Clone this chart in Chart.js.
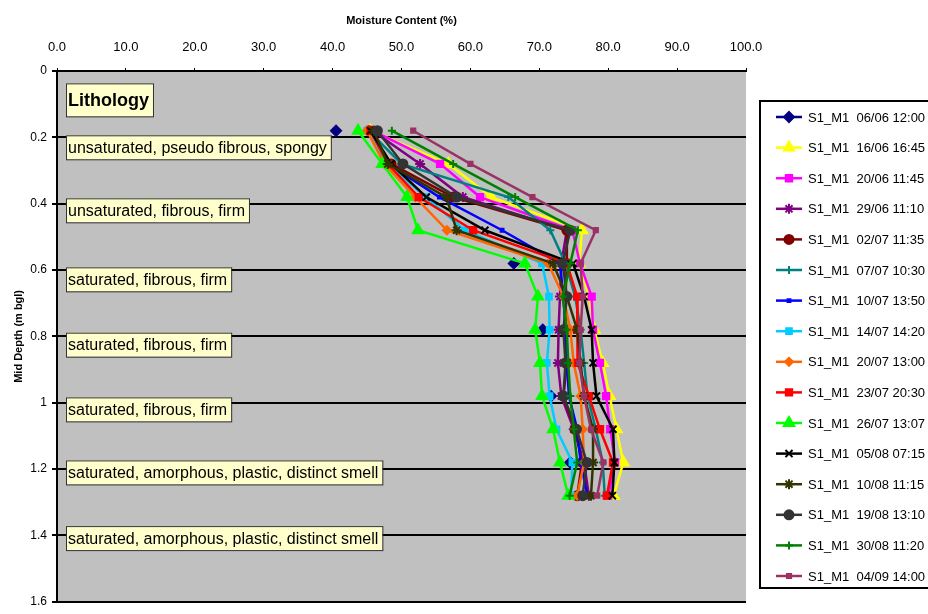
<!DOCTYPE html>
<html>
<head>
<meta charset="utf-8">
<script src="https://cdn.jsdelivr.net/npm/chart.js@4.4.0/dist/chart.umd.min.js"></script>
<style>
  html, body { margin: 0; padding: 0; background: #fff; }
  #wrap { width: 928px; height: 614px; }
</style>
</head>
<body>
<div id="wrap"><canvas id="chart" width="928" height="614"></canvas></div>
<script>
// mid depths (m bgl)
const depths = [0.18, 0.28, 0.38, 0.48, 0.58, 0.68, 0.78, 0.88, 0.98, 1.08, 1.18, 1.28];

// moisture content (%) per survey
const mc_0606 = [40.5, null, null, null, 66.3, null, 70.5, null, 71.7, null, 74.5, null];
const mc_1606 = [45.5, 56.8, 63.0, 76.2, 75.8, 77.2, 78.0, 79.2, 80.2, 81.2, 82.2, 80.8];
const mc_2006 = [45.8, 55.6, 61.4, 74.8, 75.9, 77.6, 77.8, 78.8, 79.7, 80.3, 81.0, 80.0];
const mc_2906 = [45.8, 52.7, 58.9, 74.0, 73.2, 73.0, 72.8, 72.7, 73.2, 75.0, 76.5, 77.2];
const mc_0207 = [45.3, 48.5, 57.5, 74.0, 74.0, 73.8, 73.8, 74.0, 73.5, 75.2, 76.2, 75.5];
const mc_0707 = [45.2, 50.0, 65.5, 71.6, 73.8, 75.2, 76.0, 76.5, 77.0, 78.2, 79.2, 79.5];
const mc_1007 = [45.0, 48.0, 55.5, 64.6, 73.0, 73.5, 73.8, 74.0, 74.3, 75.5, 76.0, 77.0];
const mc_1407 = [45.0, 48.0, 53.5, 59.2, 70.4, 71.4, 71.5, 71.1, 71.5, 72.5, 74.8, 74.6];
const mc_2007 = [45.0, 47.5, 52.0, 56.6, 71.3, 73.5, 74.5, 75.0, 76.0, 76.3, 76.5, 75.5];
const mc_2307 = [45.5, 48.0, 52.5, 60.4, 74.0, 75.5, 75.5, 75.6, 77.2, 78.8, 80.7, 79.8];
const mc_2607 = [43.7, 47.2, 50.8, 52.4, 67.9, 69.8, 69.4, 70.1, 70.4, 72.0, 73.0, 74.2];
const mc_0508 = [45.5, 48.5, 53.6, 62.1, 74.9, 76.5, 77.6, 77.8, 78.3, 80.7, 80.9, 80.6];
const mc_1008 = [46.0, 48.0, 56.5, 58.0, 72.0, 74.0, 75.5, 76.0, 76.5, 77.8, 77.8, 77.5];
const mc_1908 = [46.5, 50.2, 58.0, 74.5, 73.4, 74.0, 73.5, 73.8, 73.5, 75.4, 76.9, 76.3];
const mc_3008 = [48.6, 57.5, 66.5, 75.6, 74.5, 73.4, 74.0, 74.2, 74.5, 75.0, 75.5, 74.4];
const mc_0409 = [51.7, 60.0, 69.0, 78.2, 76.0, 76.3, 76.0, 75.8, 76.5, 77.5, 79.3, 78.4];

const seriesNames = [
  'S1_M1  06/06 12:00', 'S1_M1  16/06 16:45', 'S1_M1  20/06 11:45', 'S1_M1  29/06 11:10',
  'S1_M1  02/07 11:35', 'S1_M1  07/07 10:30', 'S1_M1  10/07 13:50', 'S1_M1  14/07 14:20',
  'S1_M1  20/07 13:00', 'S1_M1  23/07 20:30', 'S1_M1  26/07 13:07', 'S1_M1  05/08 07:15',
  'S1_M1  10/08 11:15', 'S1_M1  19/08 13:10', 'S1_M1  30/08 11:20', 'S1_M1  04/09 14:00'
];
const seriesValues = [mc_0606, mc_1606, mc_2006, mc_2906, mc_0207, mc_0707, mc_1007, mc_1407,
  mc_2007, mc_2307, mc_2607, mc_0508, mc_1008, mc_1908, mc_3008, mc_0409];

// lithology notes
const lithoText = ['Lithology', 'unsaturated, pseudo fibrous, spongy', 'unsaturated, fibrous, firm',
  'saturated, fibrous, firm', 'saturated, fibrous, firm', 'saturated, fibrous, firm',
  'saturated, amorphous, plastic, distinct smell', 'saturated, amorphous, plastic, distinct smell'];
const lithoDepth = [0.087, 0.23, 0.42, 0.628, 0.825, 1.02, 1.21, 1.408];

// styles
const colors = ['#000080', '#FFFF00', '#FF00FF', '#800080', '#800000', '#008080', '#0000FF', '#00CCFF',
  '#FF6600', '#FF0000', '#00FF00', '#000000', '#333300', '#333333', '#008000', '#993366'];
const markers = ['rectRot', 'triangle', 'rect', 'star', 'circle', 'cross', 'rect', 'rect',
  'rectRot', 'rect', 'triangle', 'crossRot', 'star', 'circle', 'cross', 'rect'];
const markerSize = [5, 6, 4.5, 5, 4.5, 4, 2, 4, 4, 4.5, 6, 5, 5, 4.5, 4, 3];

const FONT = '"Liberation Sans", Arial, sans-serif';

const datasets = seriesValues.map((vals, i) => ({
  label: seriesNames[i],
  data: depths.map((d, j) => ({ x: vals[j], y: d })),
  borderColor: colors[i],
  backgroundColor: colors[i],
  pointBackgroundColor: colors[i],
  pointBorderColor: colors[i],
  pointStyle: markers[i],
  pointRadius: markerSize[i],
  pointBorderWidth: 2,
  borderWidth: 2.5,
  order: seriesValues.length - i,
  spanGaps: false,
  tension: 0
}));

// grey plot area
const plotBg = {
  id: 'plotBg',
  beforeDraw(chart) {
    const { ctx, chartArea: a } = chart;
    ctx.save();
    ctx.fillStyle = '#C0C0C0';
    ctx.fillRect(a.left, a.top, a.right - a.left, a.bottom - a.top);
    ctx.restore();
  }
};

// lithology boxes
const lithoBoxes = {
  id: 'lithoBoxes',
  afterDatasetsDraw(chart) {
    const { ctx } = chart;
    const ys = chart.scales.y;
    ctx.save();
    lithoText.forEach((t, i) => {
      const cy = ys.getPixelForValue(lithoDepth[i]);
      const bold = i === 0;
      ctx.font = (bold ? 'bold 18px ' : '16px ') + FONT;
      const w = ctx.measureText(t).width;
      const h = bold ? 33 : 24;
      const x = 66;
      ctx.fillStyle = '#FFFFCC';
      ctx.fillRect(x, cy - h / 2, w + 6, h);
      ctx.strokeStyle = '#333';
      ctx.lineWidth = 1;
      ctx.strokeRect(x + 0.5, cy - h / 2 + 0.5, w + 6, h);
      ctx.fillStyle = '#000';
      ctx.textBaseline = 'middle';
      ctx.fillText(t, x + 2, cy + 1);
    });
    ctx.restore();
  }
};

// legend box on the right
const sideLegend = {
  id: 'sideLegend',
  afterDraw(chart) {
    const { ctx } = chart;
    ctx.save();
    ctx.strokeStyle = '#000';
    ctx.lineWidth = 2;
    ctx.strokeRect(760, 101, 180, 487);
    ctx.font = '13px ' + FONT;
    ctx.textBaseline = 'middle';
    chart.data.datasets.forEach((ds, i) => {
      const y = 117 + i * 30.6;
      ctx.strokeStyle = ds.borderColor;
      ctx.lineWidth = 2.5;
      ctx.beginPath();
      ctx.moveTo(776, y);
      ctx.lineTo(802, y);
      ctx.stroke();
      ctx.fillStyle = ds.pointBackgroundColor;
      ctx.strokeStyle = ds.pointBorderColor;
      ctx.lineWidth = 2;
      Chart.helpers.drawPoint(ctx, { pointStyle: ds.pointStyle, radius: ds.pointRadius, rotation: 0, borderWidth: 2 }, 789, y);
      ctx.fillStyle = '#000';
      ctx.fillText(ds.label, 808, y + 1);
    });
    ctx.restore();
  }
};

new Chart(document.getElementById('chart').getContext('2d'), {
  type: 'line',
  data: { datasets: datasets },
  options: {
    responsive: false,
    animation: false,
    indexAxis: 'y',
    layout: { padding: { left: 0, top: 0, right: 182, bottom: 8 } },
    plugins: { legend: { display: false }, tooltip: { enabled: false } },
    scales: {
      x: {
        type: 'linear',
        position: 'top',
        min: 0,
        max: 100,
        afterFit(scale) { scale.height = 71; },
        ticks: {
          stepSize: 10,
          padding: 13,
          color: '#000',
          font: { family: FONT, size: 13 },
          callback: v => v.toFixed(1)
        },
        grid: { drawOnChartArea: false, color: '#000', tickLength: 3, lineWidth: 1 },
        border: { color: '#000', width: 2 },
        title: {
          display: true,
          text: 'Moisture Content (%)',
          color: '#000',
          font: { family: FONT, size: 11, weight: 'bold' },
          padding: { top: 14, bottom: 0 }
        }
      },
      y: {
        type: 'linear',
        reverse: true,
        min: 0,
        max: 1.6,
        afterFit(scale) { scale.width = 57; },
        ticks: {
          stepSize: 0.2,
          padding: 5,
          color: '#000',
          font: { family: FONT, size: 12 },
          callback: v => String(Math.round(v * 10) / 10)
        },
        grid: { color: '#000', lineWidth: 2, tickLength: 5 },
        border: { color: '#000', width: 2 },
        title: {
          display: true,
          text: 'Mid Depth (m bgl)',
          color: '#000',
          font: { family: FONT, size: 11, weight: 'bold' },
          padding: { top: 12, bottom: 0 }
        }
      }
    }
  },
  plugins: [plotBg, lithoBoxes, sideLegend]
});
</script>
</body>
</html>
